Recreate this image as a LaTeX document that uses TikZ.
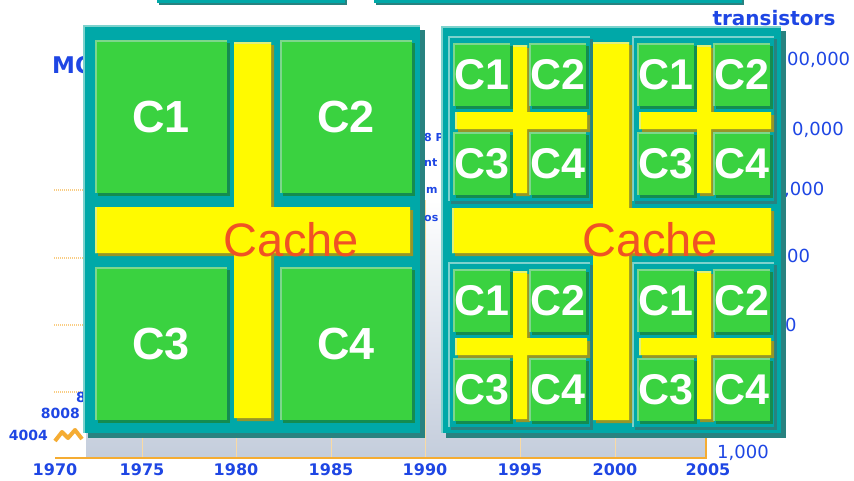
\documentclass[tikz,border=0pt]{standalone}
\usepackage{fontspec}
\setmainfont{Liberation Sans}
\newfontfamily\chartfont{DejaVu Sans}
\usepackage{tikz}
\usetikzlibrary{shadows}
\definecolor{ChipTeal}{RGB}{0,168,168}
\definecolor{TealLight}{RGB}{125,210,205}
\definecolor{TealDark}{RGB}{40,130,128}
\definecolor{CoreGreen}{RGB}{58,210,64}
\definecolor{GreenLight}{RGB}{125,215,140}
\definecolor{GreenDark}{RGB}{20,140,80}
\definecolor{CacheYellow}{RGB}{255,250,0}
\definecolor{YellowLight}{RGB}{225,240,120}
\definecolor{YellowDark}{RGB}{150,150,40}
\definecolor{CacheRed}{RGB}{240,82,36}
\definecolor{ChartBlue}{RGB}{30,70,228}
\definecolor{AxisOrange}{RGB}{245,172,50}
\definecolor{PhotoGray}{RGB}{196,205,220}
\tikzset{
	slab/.style n args={4}{fill=#1,
		path picture={\draw[#2,line width=4pt] (path picture bounding box.south west) |- (path picture bounding box.north east);},
		drop shadow={shadow xshift=#4,shadow yshift=-#4,fill=#3,opacity=1}},
	chip/.style={slab={ChipTeal}{TealLight}{TealDark}{5pt},anchor=north west,inner sep=0pt},
	quad/.style={slab={ChipTeal}{TealLight}{TealDark}{3pt},anchor=north west,inner sep=0pt,
		minimum width=142pt,minimum height=165pt},
	core/.style={slab={CoreGreen}{GreenLight}{GreenDark}{3pt},anchor=north west,inner sep=0pt,
		text=white,font=\bfseries\fontsize{45}{45}\selectfont},
	small core/.style={core,minimum width=57pt,minimum height=63pt,font=\bfseries\fontsize{43}{43}\selectfont},
	bar/.style={slab={CacheYellow}{YellowLight}{YellowDark}{3pt}},
	cache/.style={text=CacheRed,inner sep=0pt,font=\fontsize{47}{47}\selectfont},
	axislabel/.style={text=ChartBlue,inner sep=0pt,anchor=west,font=\chartfont\fontsize{18}{18}\selectfont},
	year/.style={text=ChartBlue,inner sep=0pt,font=\chartfont\bfseries\fontsize{16}{16}\selectfont},
	cpu/.style={text=ChartBlue,inner sep=0pt,font=\chartfont\bfseries\fontsize{14}{14}\selectfont},
}

\begin{document}
\begin{tikzpicture}[x=1pt,y=-1pt]
	\useasboundingbox (0,0) rectangle (854,480);
	\fill[white] (0,0) rectangle (854,480);
	% chart behind the chips
	\shade[top color=white,bottom color=PhotoGray] (86,200) rectangle (706,458);
	\foreach \gx in {142,236,331,425,520,615}
		\draw[AxisOrange!45,line width=1pt] (\gx,200) -- (\gx,458);
	\foreach \gy in {190,258,325,392}
		\draw[AxisOrange!60,line width=2pt,dash pattern=on 1pt off 1pt] (54,\gy) -- (86,\gy);
	\draw[AxisOrange,line width=2.5pt] (55,458) -- (706,458) -- (706,438);
	\draw[AxisOrange,line width=4pt,line join=round] (55,441) -- (62,432) -- (68,438) -- (75,430) -- (82,439);
	\foreach \yr/\gx in {1970/55,1975/142,1980/236,1985/331,1990/425,1995/520,2000/615,2005/708}
		\node[year] (y\yr) at (\gx,470) {\yr};
	\node[text=ChartBlue,inner sep=0pt,font=\chartfont\bfseries\fontsize{20}{20}\selectfont] (unit) at (774,18) {transistors};
	\node[text=ChartBlue,inner sep=0pt,anchor=west,font=\chartfont\bfseries\fontsize{23}{23}\selectfont] (law) at (52,65) {MO};
	\node[axislabel] (t1) at (787,60) {00,000};
	\node[axislabel] (t2) at (792,130) {0,000};
	\node[axislabel] (t3) at (784,190) {,000};
	\node[axislabel] (t4) at (787,256) {00};
	\node[axislabel] (t5) at (785,325) {0};
	\node[axislabel] (t6) at (717,453) {1,000};
	\node[cpu,anchor=west] (p3) at (76,397) {8};
	\node[cpu,anchor=east] (p2) at (80,413) {8008};
	\node[cpu,anchor=east] (p1) at (48,435) {4004};
	\node[cpu,anchor=west,font=\chartfont\bfseries\fontsize{11}{11}\selectfont] (g1) at (424,137) {8 P};
	\node[cpu,anchor=west,font=\chartfont\bfseries\fontsize{11}{11}\selectfont] (g2) at (424,163) {nt};
	\node[cpu,anchor=west,font=\chartfont\bfseries\fontsize{11}{11}\selectfont] (g3) at (426,190) {m};
	\node[cpu,anchor=west,font=\chartfont\bfseries\fontsize{11}{11}\selectfont] (g4) at (424,218) {os};
	\fill[TealDark] (159,0) rectangle (347,5);
	\fill[ChipTeal] (157,0) rectangle (345,3);
	\fill[TealDark] (376,0) rectangle (744,5);
	\fill[ChipTeal] (374,0) rectangle (742,3);
	% quad-core chip
	\node[chip,minimum width=337pt,minimum height=408pt] (lchip) at (83,25) {};
	\path[bar] (234,42) rectangle (271,418) (95,207) rectangle (410,253);
	\node[core,minimum width=132pt,minimum height=153pt] (l1) at (95,40) {C1};
	\node[core,minimum width=132pt,minimum height=153pt] (l2) at (280,40) {C2};
	\node[core,minimum width=132pt,minimum height=153pt] (l3) at (95,267) {C3};
	\node[core,minimum width=132pt,minimum height=153pt] (l4) at (280,267) {C4};
	\node[cache] (lcache) at (291,240) {Cache};
	% 16-core chip
	\node[chip,minimum width=340pt,minimum height=407pt] (rchip) at (441,26) {};
	\foreach \qx/\qy/\q in {448/36/a,632/36/b,448/262/c,632/262/d}{
		\node[quad] (\q) at (\qx,\qy) {};
		\path[bar] (\qx+65,\qy+9) rectangle (\qx+79,\qy+157) (\qx+7,\qy+76) rectangle (\qx+139,\qy+93);
		\node[small core] (\q1) at (\qx+5,\qy+7) {C1};
		\node[small core] (\q2) at (\qx+81,\qy+7) {C2};
		\node[small core] (\q3) at (\qx+5,\qy+96) {C3};
		\node[small core] (\q4) at (\qx+81,\qy+96) {C4};
	}
	\path[bar] (593,42) rectangle (629,420) (452,208) rectangle (771,253);
	\node[cache] (rcache) at (650,240) {Cache};
\end{tikzpicture}
\end{document}
